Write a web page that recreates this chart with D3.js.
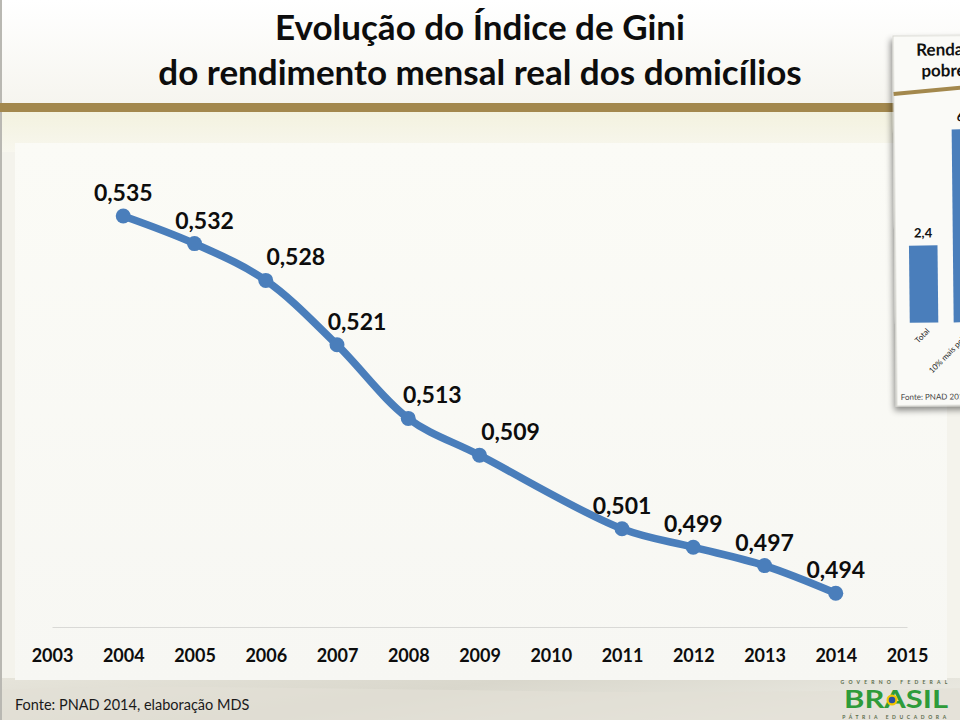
<!DOCTYPE html>
<html><head><meta charset="utf-8">
<script src="https://cdn.jsdelivr.net/npm/d3@7"></script>
<style>
html,body{margin:0;padding:0;background:#f2f0e8;}
svg{display:block;}
text{font-family:Lato,"Open Sans",sans-serif;}
</style></head>
<body>
<svg id="c" width="960" height="720"></svg>
<script>
// ---- data ----
const years = [2003,2004,2005,2006,2007,2008,2009,2010,2011,2012,2013,2014,2015];
const giniYears = [2004,2005,2006,2007,2008,2009,2011,2012,2013,2014];
const giniValues = [0.535,0.532,0.528,0.521,0.513,0.509,0.501,0.499,0.497,0.494];
const giniLabels = ["0,535","0,532","0,528","0,521","0,513","0,509","0,501","0,499","0,497","0,494"];
const titleLines = ["Evolução do Índice de Gini","do rendimento mensal real dos domicílios"];
const sourceText = "Fonte: PNAD 2014, elaboração MDS";
// inset (partial slide thumbnail at right)
const insetCats = ["Total","10% mais pobres"];
const insetValues = [2.4, 6.0];
const insetLabels = ["2,4","6,0"];

// ---- layout ----
const labelShift = [0,10,30,20,24,31,0,0,0,0];
const svg = d3.select("#c");
const defs = svg.append("defs");

const gTop = defs.append("linearGradient").attr("id","gTop").attr("x1",0).attr("x2",0).attr("y1",0).attr("y2",1);
gTop.append("stop").attr("offset","0").attr("stop-color","#ffffff");
gTop.append("stop").attr("offset","1").attr("stop-color","#f6f5ef");
const gBand = defs.append("linearGradient").attr("id","gBand").attr("x1",0).attr("x2",0).attr("y1",0).attr("y2",1);
gBand.append("stop").attr("offset","0").attr("stop-color","#f3f2df");
gBand.append("stop").attr("offset","1").attr("stop-color","#f8f7ee");
const gBot = defs.append("linearGradient").attr("id","gBot").attr("x1",0).attr("x2",1).attr("y1",0).attr("y2",0.3);
gBot.append("stop").attr("offset","0").attr("stop-color","#e6e4da");
gBot.append("stop").attr("offset","0.5").attr("stop-color","#d9d7cc");
gBot.append("stop").attr("offset","1").attr("stop-color","#e9e8e0");
const gPanel = defs.append("linearGradient").attr("id","gPanel").attr("x1",0).attr("x2",0).attr("y1",0).attr("y2",1);
gPanel.append("stop").attr("offset","0").attr("stop-color","#fbfbf6");
gPanel.append("stop").attr("offset","1").attr("stop-color","#f7f7f3");
const sh = defs.append("filter").attr("id","sh").attr("x","-20%").attr("y","-5%").attr("width","140%").attr("height","112%");
sh.append("feDropShadow").attr("dx",-2).attr("dy",4).attr("stdDeviation",3).attr("flood-color","#000").attr("flood-opacity",0.45);

// slide background
svg.append("rect").attr("width",960).attr("height",720).attr("fill","#eeece3");
svg.append("rect").attr("width",960).attr("height",103).attr("fill","url(#gTop)");
svg.append("rect").attr("y",112).attr("width",960).attr("height",40).attr("fill","url(#gBand)");
svg.append("rect").attr("y",152).attr("width",960).attr("height",528).attr("fill","#f4f3ec");
svg.append("rect").attr("y",678).attr("width",960).attr("height",42).attr("fill","url(#gBot)");
svg.append("path").attr("d","M0,690 C250,680 600,700 960,688 L960,720 L0,720Z").attr("fill","#e2e0d6").attr("opacity",0.7);
svg.append("rect").attr("x",0).attr("y",0).attr("width",2).attr("height",720).attr("fill","#b9b8b2");
// gold bar
svg.append("rect").attr("x",0).attr("y",103).attr("width",900).attr("height",9).attr("fill","#a3884d");

// title
svg.append("g").selectAll("text").data(titleLines).join("text")
  .attr("x",480).attr("y",(d,i)=>40+i*45)
  .attr("text-anchor","middle").attr("font-weight",700).attr("font-size",35).attr("fill","#0d0d0d")
  .text(d=>d);

// chart panel
svg.append("rect").attr("x",15).attr("y",143).attr("width",932).attr("height",537).attr("fill","url(#gPanel)");

// scales
const x = d3.scalePoint().domain(years).range([52,907]);
const y = d3.scaleLinear().domain([0.49,0.54]).range([630,170]);

// axis
const axis = svg.append("g").attr("transform","translate(0,627)")
  .call(d3.axisBottom(x).tickSize(0).tickFormat(d=>String(d)));
axis.select(".domain").attr("stroke","#d9d9d6").attr("stroke-width",1.2);
axis.selectAll("text").attr("y",35).attr("dy",null)
  .attr("font-family","Lato, sans-serif").attr("font-weight",700).attr("font-size",18).attr("fill","#0d0d0d");

// line
const pts = giniYears.map((yr,i)=>({yr, v:giniValues[i], lab:giniLabels[i], dx:labelShift[i]}));
const line = d3.line().x(d=>x(d.yr)).y(d=>y(d.v)).curve(d3.curveCatmullRom.alpha(0.5));
svg.append("path").datum(pts).attr("d",line).attr("fill","none")
  .attr("stroke","#4a7ebb").attr("stroke-width",7.5).attr("stroke-linecap","round").attr("stroke-linejoin","round");
svg.append("g").selectAll("circle").data(pts).join("circle")
  .attr("cx",d=>x(d.yr)).attr("cy",d=>y(d.v)).attr("r",7.5).attr("fill","#4a7ebb");
svg.append("g").selectAll("text").data(pts).join("text")
  .attr("x",d=>x(d.yr)+d.dx).attr("y",d=>y(d.v)-15)
  .attr("text-anchor","middle").attr("font-weight",700).attr("font-size",23).attr("fill","#0d0d0d")
  .text(d=>d.lab);

// source
svg.append("text").attr("x",15).attr("y",710).attr("font-size",14.5).attr("fill","#1a1a1a")
  .attr("font-family","'Open Sans', sans-serif").text(sourceText);

// logo
const logo = svg.append("g");
logo.append("text").attr("x",896).attr("y",684).attr("text-anchor","middle").attr("font-size",5)
  .attr("font-family","'Liberation Sans', sans-serif")
  .attr("letter-spacing",4.2).attr("font-weight",700).attr("fill","#5a6b4a").text("GOVERNO FEDERAL");
logo.append("text").attr("x",896).attr("y",708).attr("text-anchor","middle").attr("font-size",24)
  .attr("font-weight",700).attr("font-family","'Liberation Sans', sans-serif")
  .attr("fill","#2e9b3a").attr("textLength",104).attr("lengthAdjust","spacingAndGlyphs").text("BRASIL");
logo.append("circle").attr("cx",892).attr("cy",700).attr("r",5.5).attr("fill","#f2c500");
logo.append("circle").attr("cx",892).attr("cy",700).attr("r",3.3).attr("fill","#2a4ea0");
logo.append("text").attr("x",896).attr("y",719).attr("text-anchor","middle").attr("font-size",5)
  .attr("font-family","'Liberation Sans', sans-serif")
  .attr("letter-spacing",3.6).attr("font-weight",700).attr("fill","#5a6b4a").text("PÁTRIA EDUCADORA");

// inset thumbnail card
const inset = svg.append("g").attr("transform","rotate(-0.6,893,38)");
inset.append("rect").attr("x",893).attr("y",36).attr("width",90).attr("height",370).attr("fill","#fafaf7")
  .attr("stroke","#d8d8d2").attr("stroke-width",1).attr("filter","url(#sh)");
inset.append("text").attr("x",916).attr("y",56).attr("font-size",17).attr("font-weight",700).attr("fill","#111").text("Renda");
inset.append("text").attr("x",921).attr("y",77).attr("font-size",17).attr("font-weight",700).attr("fill","#111").text("pobre");
inset.append("path").attr("d","M893,94 L990,86").attr("stroke","#a3884d").attr("stroke-width",4);
const ix = d3.scaleBand().domain(insetCats).range([898,988]).paddingInner(0.35).paddingOuter(0.2);
const iy = d3.scaleLinear().domain([0,6]).range([323,130]);
inset.append("g").selectAll("rect").data(insetValues).join("rect")
  .attr("x",(d,i)=>ix(insetCats[i])).attr("y",d=>iy(d)).attr("width",ix.bandwidth()).attr("height",d=>iy(0)-iy(d))
  .attr("fill","#4a7ebb");
inset.append("g").selectAll("text").data(insetValues).join("text")
  .attr("x",(d,i)=>ix(insetCats[i])+ix.bandwidth()/2).attr("y",d=>iy(d)-8)
  .attr("text-anchor","middle").attr("font-size",13).attr("font-weight",700).attr("fill","#111")
  .text((d,i)=>insetLabels[i]);
inset.append("g").selectAll("text").data(insetCats).join("text")
  .attr("transform",d=>`translate(${ix(d)+ix.bandwidth()/2+6},332) rotate(-45)`)
  .attr("text-anchor","end").attr("font-size",8).attr("fill","#222").text(d=>d);
inset.append("text").attr("x",897).attr("y",400).attr("font-size",8).attr("fill","#444").text("Fonte: PNAD 2014");
</script>
</body></html>
